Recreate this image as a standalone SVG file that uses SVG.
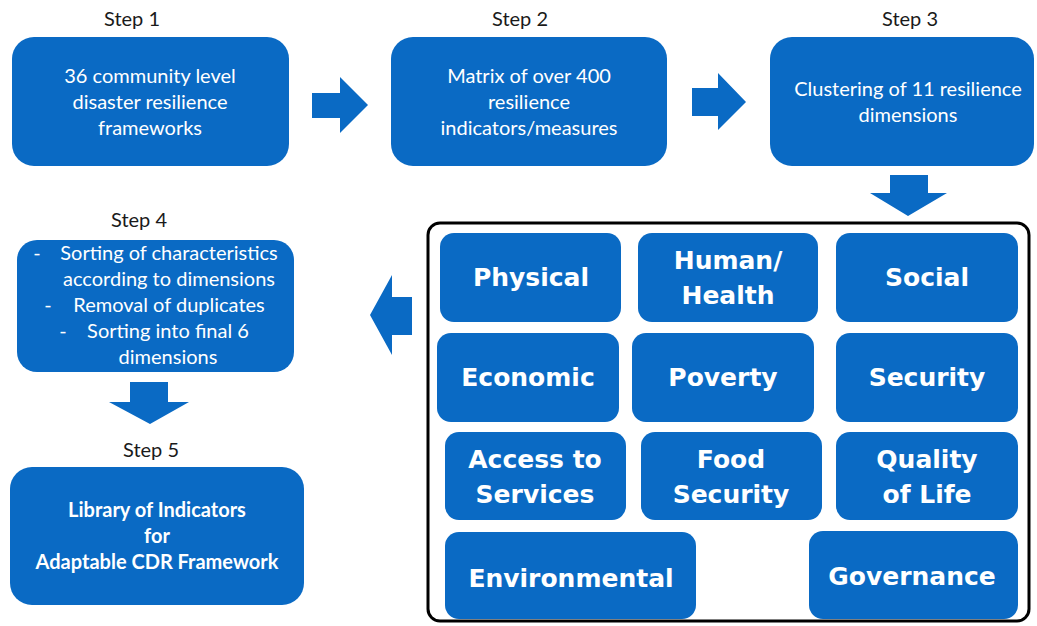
<svg xmlns="http://www.w3.org/2000/svg" width="1037" height="626" viewBox="0 0 1037 626">
<style>
.box{fill:#0a6ac4;}
.lbl{font-family:Lato,"Liberation Sans",sans-serif;font-size:20px;fill:#1a1a1a;text-anchor:middle;}
.t{font-family:Lato,"Liberation Sans",sans-serif;font-size:20px;fill:#ffffff;text-anchor:middle;}
.tb{font-family:Lato,"Liberation Sans",sans-serif;font-size:20px;font-weight:bold;fill:#ffffff;text-anchor:middle;}
.d{font-family:"DejaVu Sans",Verdana,sans-serif;font-size:25px;font-weight:bold;fill:#ffffff;text-anchor:middle;}
.arr{fill:#0a6ac4;}
</style>
<rect width="1037" height="626" fill="#ffffff"/>

<g id="step1">
<text class="lbl" x="132" y="26">Step 1</text>
<rect class="box" x="12" y="37" width="277" height="129" rx="22"/>
<text class="t" x="150" y="83">36 community level</text>
<text class="t" x="150" y="109">disaster resilience</text>
<text class="t" x="150" y="135">frameworks</text>
</g>

<g id="step2">
<text class="lbl" x="520" y="26">Step 2</text>
<rect class="box" x="391" y="37" width="276" height="129" rx="22"/>
<text class="t" x="529" y="83">Matrix of over 400</text>
<text class="t" x="529" y="109">resilience</text>
<text class="t" x="529" y="135">indicators/measures</text>
</g>

<g id="step3">
<text class="lbl" x="910" y="26">Step 3</text>
<rect class="box" x="770" y="37" width="264" height="129" rx="22"/>
<text class="t" x="908" y="96">Clustering of 11 resilience</text>
<text class="t" x="908" y="122">dimensions</text>
</g>

<g id="step4">
<text class="lbl" x="139" y="227">Step 4</text>
<rect class="box" x="17" y="240" width="277" height="132" rx="20"/>
<text class="t" x="37" y="260">-</text>
<text class="t" x="169" y="260">Sorting of characteristics</text>
<text class="t" x="169" y="286">according to dimensions</text>
<text class="t" x="48" y="312">-</text>
<text class="t" x="169" y="312">Removal of duplicates</text>
<text class="t" x="63" y="338">-</text>
<text class="t" x="168" y="338">Sorting into final 6</text>
<text class="t" x="168" y="364">dimensions</text>
</g>

<g id="step5">
<text class="lbl" x="151" y="457">Step 5</text>
<rect class="box" x="10" y="467" width="294" height="138" rx="22"/>
<text class="tb" x="157" y="517">Library of Indicators</text>
<text class="tb" x="157" y="543">for</text>
<text class="tb" x="157" y="569">Adaptable CDR Framework</text>
</g>

<g id="dimensions">
<rect x="428" y="223" width="601" height="398" rx="12" fill="none" stroke="#000000" stroke-width="3"/>
<g id="physical"><rect class="box" x="440" y="233" width="181" height="89" rx="14"/><text class="d" x="531" y="286">Physical</text></g>
<g id="human-health"><rect class="box" x="638" y="233" width="180" height="89" rx="14"/><text class="d" x="728" y="269">Human/</text><text class="d" x="728" y="304">Health</text></g>
<g id="social"><rect class="box" x="836" y="233" width="182" height="89" rx="14"/><text class="d" x="927" y="286">Social</text></g>
<g id="economic"><rect class="box" x="437" y="333" width="182" height="89" rx="14"/><text class="d" x="528" y="386">Economic</text></g>
<g id="poverty"><rect class="box" x="632" y="333" width="182" height="89" rx="14"/><text class="d" x="723" y="386">Poverty</text></g>
<g id="security"><rect class="box" x="836" y="333" width="182" height="89" rx="14"/><text class="d" x="927" y="386">Security</text></g>
<g id="access"><rect class="box" x="445" y="432" width="181" height="88" rx="14"/><text class="d" x="535" y="468">Access to</text><text class="d" x="535" y="503">Services</text></g>
<g id="food"><rect class="box" x="641" y="432" width="181" height="88" rx="14"/><text class="d" x="731" y="468">Food</text><text class="d" x="731" y="503">Security</text></g>
<g id="quality"><rect class="box" x="836" y="432" width="182" height="88" rx="14"/><text class="d" x="927" y="468">Quality</text><text class="d" x="927" y="503">of Life</text></g>
<g id="environmental"><rect class="box" x="445" y="532" width="251" height="87" rx="14"/><text class="d" x="571" y="587">Environmental</text></g>
<g id="governance"><rect class="box" x="809" y="531" width="209" height="88" rx="14"/><text class="d" x="912" y="585">Governance</text></g>
</g>

<g id="connectors">
<polygon class="arr" points="312,93 340,93 340,77 368,105 340,133 340,118 312,118"/>
<polygon class="arr" points="692,88 718,88 718,73 746,102 718,130 718,116 692,116"/>
<polygon class="arr" points="890,175 928,175 928,193 947,193 908,216 870,193 890,193"/>
<polygon class="arr" points="412,297 392,297 392,275 370,315 392,355 392,335 412,335"/>
<polygon class="arr" points="130,382 168,382 168,402 189,402 150,424 109,402 130,402"/>
</g>
</svg>
